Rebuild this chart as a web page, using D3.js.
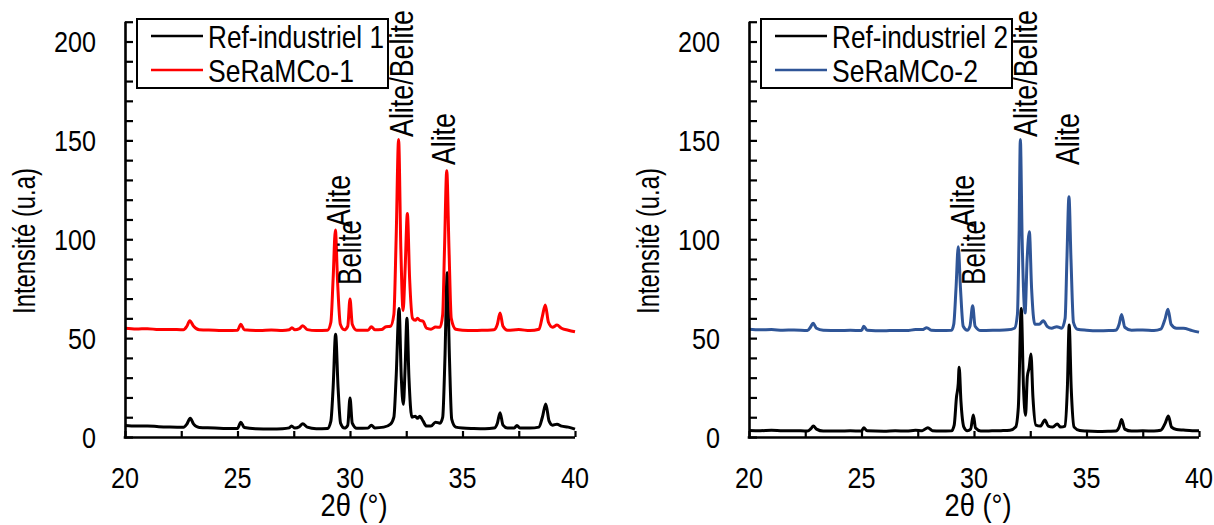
<!DOCTYPE html>
<html><head><meta charset="utf-8">
<script src="https://cdn.jsdelivr.net/npm/d3@7"></script>
<style>
body{margin:0;background:#fff}
svg{display:block;background:#fff}
text{font-family:"Liberation Sans",Arial,sans-serif;fill:#000}
</style>
</head><body>
<svg id="c" width="1214" height="525"></svg>
<script>
// ---------- data ----------
const xLabelTicks = [20, 25, 30, 35, 40];
const yLabelTicks = [0, 50, 100, 150, 200];
const xTitle = "2θ (°)";
const yTitle = "Intensité (u.a)";

const ref1 = [[20,5.8],[20.5,5.5],[21,5.6],[21.5,5.2],[22,5.0],[22.6,4.9],[22.75,6.5],[22.9,9.5],[23.05,6.5],[23.3,4.8],[24,4.6],[24.5,4.3],[25,4.3],[25.15,7.5],[25.3,4.8],[25.8,4.2],[26.5,4.1],[27,4.2],[27.3,4.6],[27.4,5.6],[27.55,4.5],[27.75,5.2],[27.9,6.7],[28.1,5.0],[28.5,4.2],[29.0,4.3],[29.15,8],[29.25,25],[29.36,52],[29.47,25],[29.58,7],[29.75,4.5],[29.9,6],[30.0,19.7],[30.1,7],[30.3,4.4],[30.8,4.5],[30.95,6],[31.1,4.6],[31.5,5],[31.8,6.5],[31.95,10],[32.05,30],[32.18,65],[32.28,30],[32.37,16.5],[32.45,35],[32.53,60],[32.62,30],[32.75,10],[32.9,10.5],[33.0,9.5],[33.1,10.5],[33.25,8],[33.4,5.5],[33.6,5.5],[33.8,7.5],[34.0,7],[34.12,10],[34.22,40],[34.32,83],[34.42,40],[34.52,9],[34.7,5],[35,4.5],[35.5,4.3],[36,4.2],[36.4,4.5],[36.55,7],[36.67,12.3],[36.8,6],[37.0,4.5],[37.3,4.6],[37.42,5.8],[37.55,4.6],[38,4.5],[38.4,5],[38.55,10],[38.7,16.7],[38.85,8],[39.0,6],[39.2,6.5],[39.4,5.5],[39.7,5],[40,4]];

const sera1 = [[20,55],[20.5,54.6],[21,54.8],[21.5,54.3],[22,54.4],[22.6,54.2],[22.75,56],[22.88,58.8],[23.05,56],[23.3,54.2],[24,54],[24.5,53.8],[25,54],[25.15,57],[25.3,54.2],[26,53.8],[26.5,54.1],[27,53.8],[27.3,54.2],[27.42,55.3],[27.55,54.2],[27.75,54.8],[27.9,56.3],[28.1,54.3],[28.5,53.8],[29.0,54],[29.15,58],[29.25,80],[29.35,104.7],[29.45,78],[29.57,57],[29.75,54.2],[29.9,56],[30.0,69.8],[30.1,57],[30.3,54],[30.8,54],[30.95,55.8],[31.1,54.2],[31.4,54.3],[31.6,55.8],[31.8,56],[31.95,62],[32.05,100],[32.16,150.5],[32.26,95],[32.36,64],[32.45,85],[32.55,113],[32.65,80],[32.78,60],[32.9,59],[33.0,60],[33.1,59],[33.25,58.5],[33.4,55],[33.6,54.5],[33.8,55.6],[34.0,55.5],[34.12,62],[34.2,95],[34.3,134.7],[34.4,95],[34.5,60],[34.7,54.5],[35,54],[35.5,53.8],[36,54],[36.4,54.2],[36.55,57],[36.67,62.7],[36.8,56],[37.0,54],[37.5,54.3],[38,53.8],[38.4,54.5],[38.55,61],[38.68,66.8],[38.82,58],[39.0,55.5],[39.2,56.6],[39.4,55],[39.7,54],[40,53.2]];

const ref2 = [[20,3.3],[20.5,3.2],[21,3.4],[21.5,3.1],[22,3.2],[22.6,3.0],[22.75,4.2],[22.86,5.6],[23.0,4],[23.3,3.0],[24,3.0],[24.5,3.1],[25,3.0],[25.1,4.7],[25.25,3.1],[26,2.9],[26.5,3.1],[27,3.0],[27.4,3.4],[27.7,3.2],[27.95,4.7],[28.15,3.2],[28.5,3.0],[29.0,3.1],[29.12,6],[29.22,20],[29.3,27],[29.34,35.3],[29.42,18],[29.55,5],[29.7,3.2],[29.85,4],[29.97,11.1],[30.07,4.5],[30.3,3],[30.8,3.1],[31.2,3.2],[31.6,3.4],[31.85,5],[31.97,15],[32.1,65],[32.2,25],[32.29,11],[32.37,30.5],[32.45,35],[32.53,42],[32.62,20],[32.75,6],[32.95,5.5],[33.15,8.6],[33.3,5.5],[33.5,5],[33.7,6.6],[33.85,5],[34.05,5.5],[34.15,25],[34.23,56.6],[34.32,25],[34.45,5],[34.7,3.3],[35,3],[35.5,2.8],[36,2.9],[36.3,3],[36.45,5],[36.56,8.9],[36.7,4],[37,3],[37.5,3.1],[38,3],[38.3,3.4],[38.5,7],[38.64,10.6],[38.78,5],[39,3.8],[39.3,3.5],[39.7,3.2],[40,3.2]];

const sera2 = [[20,54.5],[20.5,54.2],[21,54.3],[21.5,54],[22,54.1],[22.6,53.9],[22.73,55.5],[22.85,57.5],[23.0,55],[23.3,54],[24,53.8],[24.5,54],[25,53.8],[25.1,56],[25.25,54],[26,53.7],[26.5,53.9],[27,53.8],[27.4,54.3],[27.7,54.3],[27.9,55.3],[28.1,54],[28.5,53.8],[29.0,54],[29.1,57],[29.2,75],[29.3,96.2],[29.4,75],[29.52,56],[29.7,54],[29.82,56],[29.94,66.4],[30.05,56],[30.3,53.8],[31,54],[31.5,54.2],[31.8,55],[31.93,62],[32.0,100],[32.06,150.5],[32.14,100],[32.27,62.7],[32.36,89.5],[32.46,103.8],[32.56,75],[32.7,57],[32.9,57],[33.08,58.8],[33.25,56],[33.45,55],[33.68,55.8],[33.9,55],[34.05,60],[34.13,90],[34.22,121.5],[34.31,90],[34.42,58],[34.6,54.5],[35,54],[35.5,53.7],[36,53.8],[36.3,54],[36.45,57],[36.56,62],[36.7,55.5],[37,54],[37.5,54.1],[38,53.8],[38.3,54.5],[38.5,60],[38.62,64.6],[38.76,57],[39,55],[39.3,55],[39.7,53.8],[40,53]];

const legend1 = ["Ref-industriel 1", "SeRaMCo-1"];
const legend2 = ["Ref-industriel 2", "SeRaMCo-2"];
const annotLabels = ["Alite", "Belite", "Alite/Belite", "Alite"];
const annotX = [30.02, 30.51, 32.8, 34.67];
const annotY = [106.2, 76.9, 151.7, 137.5];

// ---------- drawing ----------
const svg = d3.select("#c");

// text helper: optional target length achieved through a scale transform
function stext(g, str, x, y, size, opts = {}) {
  const rot = opts.rot || 0;
  const t = g.append("text")
    .attr("font-size", size)
    .attr("text-anchor", opts.anchor || "start")
    .text(str);
  let sx = opts.sx || 1;
  if (opts.len) sx = opts.len / t.node().getComputedTextLength();
  t.attr("transform", `translate(${x},${y}) rotate(${rot}) scale(${sx},1)`);
  return t;
}

const annotLen = {"Alite": 52, "Belite": 65, "Alite/Belite": 127};
const legendLen = [176, 146];

function panel(x0, series, colors, labels) {
  const g = svg.append("g");
  const x = d3.scaleLinear().domain([20, 40]).range([x0, x0 + 450]);
  const y = d3.scaleLinear().domain([0, 210]).range([437, 437 - 210 * 1.9775]);

  const line = d3.line().x(d => x(d[0])).y(d => y(d[1])).curve(d3.curveMonotoneX);
  series.forEach((s, i) => {
    g.append("path").datum(s).attr("d", line)
      .attr("fill", "none").attr("stroke", colors[i])
      .attr("stroke-width", 3).attr("stroke-linejoin", "round");
  });

  const yAx = d3.axisRight(y).tickValues(d3.range(0, 211, 10)).tickSize(8).tickFormat("");
  const ya = g.append("g").attr("transform", `translate(${x0},0)`).call(yAx);
  const xAx = d3.axisTop(x).tickValues(d3.range(20, 40.01, 2.5)).tickSize(6).tickFormat("");
  const xa = g.append("g").attr("transform", `translate(0,${y(0)})`).call(xAx);
  [ya, xa].forEach(a => {
    a.select(".domain").attr("stroke", "#000").attr("stroke-width", 2.6);
    a.selectAll(".tick line").attr("stroke", "#000").attr("stroke-width", 2.2);
  });
  ya.select(".domain").attr("d", `M0.5,${y(210)}V${y(0) + 1.3}`);
  xa.select(".domain").attr("d", `M${x0 - 1.3},0.5H${x0 + 450}`);

  yLabelTicks.forEach(v => stext(g, v, x0 - 29, y(v) + 10.5, 30, {anchor: "end", sx: 0.84}));
  xLabelTicks.forEach(v => stext(g, v, x(v), 488, 30, {anchor: "middle", sx: 0.84}));

  stext(g, xTitle, x0 + 229, 516, 31, {anchor: "middle", len: 67});
  stext(g, yTitle, x0 - 90, 241, 32, {anchor: "middle", rot: -90, len: 146});

  annotLabels.forEach((t, i) => stext(g, t, x(annotX[i]), y(annotY[i]), 34, {rot: -90, len: annotLen[t]}));

  const lg = g.append("g");
  lg.append("rect").attr("x", x0 + 12).attr("y", 19).attr("width", 251).attr("height", 69)
    .attr("fill", "#fff").attr("stroke", "#000").attr("stroke-width", 2);
  labels.forEach((t, i) => {
    const ly = 36 + i * 34;
    lg.append("line").attr("x1", x0 + 26).attr("x2", x0 + 78).attr("y1", ly).attr("y2", ly)
      .attr("stroke", colors[i]).attr("stroke-width", 2.6);
    stext(lg, t, x0 + 83, ly + 11.5, 32, {len: legendLen[i]});
  });
}

panel(125, [ref1, sera1], ["#000000", "#ff0000"], legend1);
panel(749, [ref2, sera2], ["#000000", "#2f5597"], legend2);
</script>
</body></html>
